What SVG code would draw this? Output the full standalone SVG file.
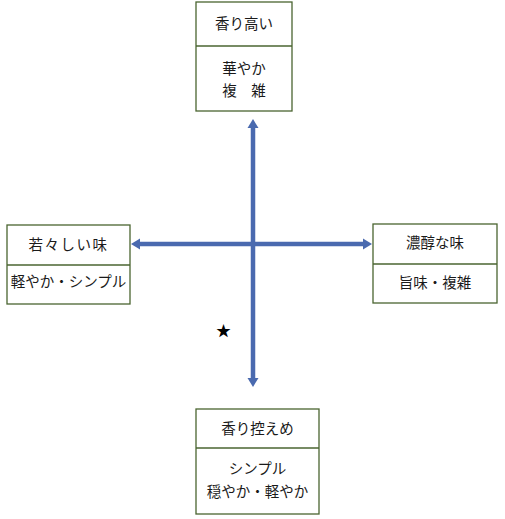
<svg xmlns="http://www.w3.org/2000/svg" width="505" height="519" viewBox="0 0 505 519">
<style>
.box{fill:#ffffff;stroke:#4a6530;stroke-width:1.3}
.div{stroke:#4a6530;stroke-width:1.6}
.t{font-family:"Noto Sans CJK JP","Noto Sans CJK SC",sans-serif;font-size:14.5px;fill:#1a1a1a;text-anchor:middle}
.ax{stroke:#4a6aaf;stroke-width:4.5;fill:none}
.ah{fill:#4a6aaf}
</style>
<rect width="505" height="519" fill="#ffffff"/>
<g id="connectors">
<line class="ax" x1="253" y1="126" x2="253" y2="380"/>
<line class="ax" x1="138" y1="244" x2="365" y2="244"/>
<polygon class="ah" points="253,119 247.5,128 258.5,128"/>
<polygon class="ah" points="253,387 247.5,378 258.5,378"/>
<polygon class="ah" points="131,244 140,238.5 140,249.5"/>
<polygon class="ah" points="372,244 363,238.5 363,249.5"/>
</g>
<g id="node-top">
<rect class="box" x="196" y="2" width="96" height="109"/>
<line class="div" x1="196" y1="46" x2="292" y2="46"/>
<text class="t" x="244" y="29">香り高い</text>
<text class="t" x="244" y="74">華やか</text>
<text class="t" x="244" y="96" xml:space="preserve">複　雑</text>
</g>
<g id="node-left">
<rect class="box" x="7" y="225" width="123" height="79"/>
<line class="div" x1="7" y1="265" x2="130" y2="265"/>
<text class="t" x="68.5" y="250" letter-spacing="1.5">若々しい味</text>
<text class="t" x="68.5" y="287">軽やか・シンプル</text>
</g>
<g id="node-right">
<rect class="box" x="373" y="224" width="124" height="79"/>
<line class="div" x1="373" y1="264" x2="497" y2="264"/>
<text class="t" x="435" y="248">濃醇な味</text>
<text class="t" x="435" y="288">旨味・複雑</text>
</g>
<g id="node-bottom">
<rect class="box" x="196" y="409" width="123" height="105"/>
<line class="div" x1="196" y1="448" x2="319" y2="448"/>
<text class="t" x="257.5" y="434">香り控えめ</text>
<text class="t" x="257.5" y="474">シンプル</text>
<text class="t" x="257.5" y="497">穏やか・軽やか</text>
</g>
<text x="223.5" y="336" font-family="Noto Sans CJK JP,sans-serif" font-size="15" text-anchor="middle" fill="#000">★</text>
</svg>
